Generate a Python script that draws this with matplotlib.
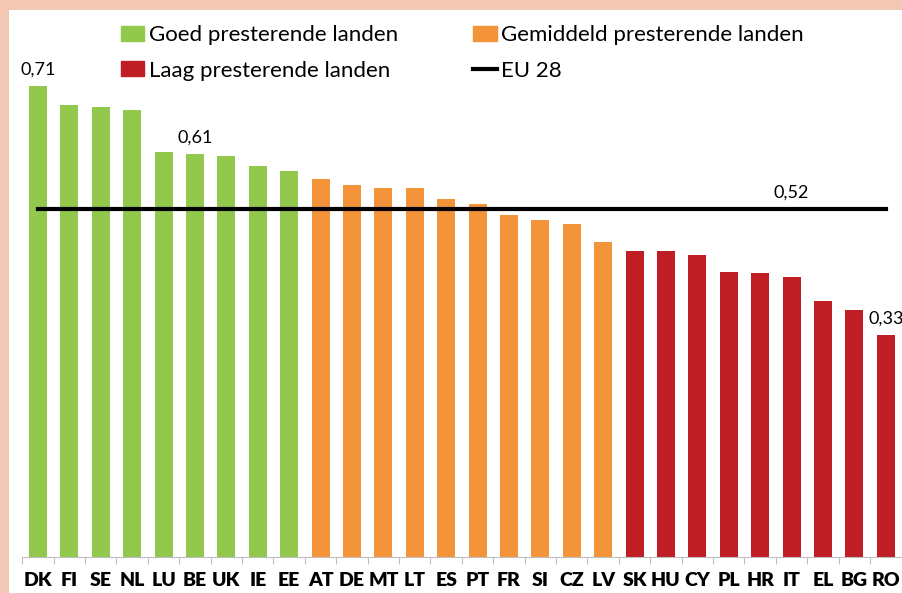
import matplotlib
matplotlib.use("Agg")
from matplotlib import pyplot as plt
from matplotlib.patches import Patch, Rectangle
from matplotlib.lines import Line2D

countries = ["DK", "FI", "SE", "NL", "LU", "BE", "UK", "IE", "EE",
             "AT", "DE", "MT", "LT", "ES", "PT", "FR", "SI", "CZ", "LV",
             "SK", "HU", "CY", "PL", "HR", "IT", "EL", "BG", "RO"]
values = [0.710, 0.682, 0.678, 0.674, 0.611, 0.608, 0.605, 0.590, 0.582,
          0.570, 0.561, 0.557, 0.556, 0.540, 0.532, 0.515, 0.508, 0.502, 0.475,
          0.462, 0.461, 0.455, 0.429, 0.428, 0.422, 0.386, 0.372, 0.334]
groups = ["goed"] * 9 + ["gemiddeld"] * 10 + ["laag"] * 9
eu_value = 0.525

group_colors = {"goed": "#92C84B", "gemiddeld": "#F4943A", "laag": "#BE1E24"}
group_labels = {"goed": "Goed presterende landen",
                "gemiddeld": "Gemiddeld presterende landen",
                "laag": "Laag presterende landen"}

# labels shown in the chart (index, text)
value_labels = [(0, "0,71"), (5, "0,61"), (27, "0,33")]
eu_label = (24, "0,52")

plt.rcParams["font.family"] = ["Lato", "DejaVu Sans"]

fig = plt.figure(figsize=(9.03, 5.93), dpi=100)
fig.patch.set_facecolor("#F2C8B5")
fig.patches.append(Rectangle((8.5 / 903, 0), 1, (593 - 10) / 593,
                             transform=fig.transFigure, facecolor="white",
                             edgecolor="none", zorder=-10))

ax = fig.add_axes([22.3 / 903, 36 / 593, 879.2 / 903, 530.7 / 593])
ax.set_facecolor("none")

x = list(range(len(countries)))
ax.bar(x, values, width=0.57, color=[group_colors[g] for g in groups], zorder=2)
ax.plot([x[0], x[-1]], [eu_value, eu_value], color="black", lw=3, zorder=3)

ax.set_xlim(-0.5, len(countries) - 0.5)
ax.set_ylim(0, 0.8)

for i, txt in value_labels:
    ax.annotate(txt, (i, values[i]), xytext=(0, 6), textcoords="offset points",
                ha="center", va="bottom", fontsize=13, clip_on=False)
ax.annotate(eu_label[1], (eu_label[0], eu_value), xytext=(0, 6),
            textcoords="offset points", ha="center", va="bottom", fontsize=13)

for s in ["top", "right", "left"]:
    ax.spines[s].set_visible(False)
ax.spines["bottom"].set_color("#BFBFBF")
ax.set_yticks([])
ax.set_xticks([i - 0.5 for i in x], minor=False)
ax.set_xticklabels([])
ax.tick_params(axis="x", which="major", length=5, color="#BFBFBF")
ax.set_xticks(x, minor=True)
ax.set_xticklabels(countries, minor=True, fontsize=14, fontweight="heavy")
ax.tick_params(axis="x", which="minor", length=0, pad=11)

handles = [Patch(color=group_colors["goed"]),
           Patch(color=group_colors["laag"]),
           Patch(color=group_colors["gemiddeld"]),
           Line2D([], [], color="black", lw=3)]
labels = [group_labels["goed"], group_labels["laag"],
          group_labels["gemiddeld"], "EU 28"]
ax.legend(handles, labels, ncol=2, loc="upper left",
          bbox_to_anchor=(101 / 903, 1 - 5 / 593), bbox_transform=fig.transFigure,
          frameon=False, fontsize=16, handlelength=1.05, handleheight=0.65,
          handletextpad=0.2, columnspacing=3.4, labelspacing=0.7)

fig.savefig("out.png", dpi=100, facecolor=fig.get_facecolor())
